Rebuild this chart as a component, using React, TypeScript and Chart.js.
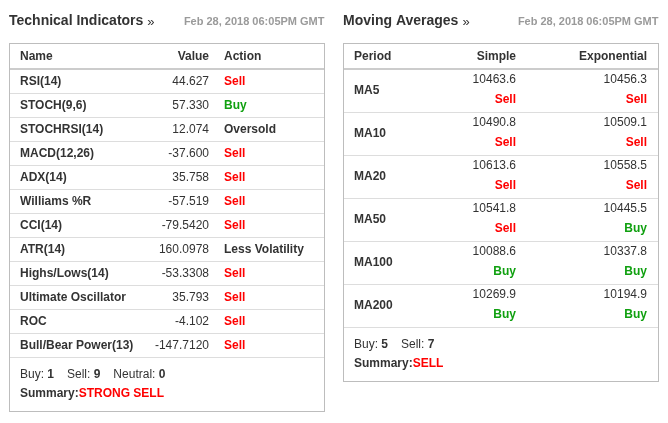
import React, { useEffect, useRef } from "react";
import { Chart, registerables } from "chart.js";

Chart.register(...registerables);

// ---------- data ----------
const TIMESTAMP = "Feb 28, 2018 06:05PM GMT";

const tiTitle = "Technical Indicators";
const tiHeaders = ["Name", "Value", "Action"];
const tiNames = [
  "RSI(14)",
  "STOCH(9,6)",
  "STOCHRSI(14)",
  "MACD(12,26)",
  "ADX(14)",
  "Williams %R",
  "CCI(14)",
  "ATR(14)",
  "Highs/Lows(14)",
  "Ultimate Oscillator",
  "ROC",
  "Bull/Bear Power(13)",
];
const tiValues = [44.627, 57.33, 12.074, -37.6, 35.758, -57.519, -79.542, 160.0978, -53.3308, 35.793, -4.102, -147.712];
const tiDecimals = [3, 3, 3, 3, 3, 3, 4, 4, 4, 3, 3, 4];
const tiActions = ["Sell", "Buy", "Oversold", "Sell", "Sell", "Sell", "Sell", "Less Volatility", "Sell", "Sell", "Sell", "Sell"];
const tiCountLabels = ["Buy:", "Sell:", "Neutral:"];
const tiCounts = [1, 9, 0];
const tiSummary = "STRONG SELL";

const maTitle = "Moving Averages";
const maHeaders = ["Period", "Simple", "Exponential"];
const maPeriods = ["MA5", "MA10", "MA20", "MA50", "MA100", "MA200"];
const maSimple = [10463.6, 10490.8, 10613.6, 10541.8, 10088.6, 10269.9];
const maSimpleActions = ["Sell", "Sell", "Sell", "Sell", "Buy", "Buy"];
const maExp = [10456.3, 10509.1, 10558.5, 10445.5, 10337.8, 10194.9];
const maExpActions = ["Sell", "Sell", "Sell", "Buy", "Buy", "Buy"];
const maCountLabels = ["Buy:", "Sell:"];
const maCounts = [5, 7];
const maSummary = "SELL";

// ---------- styles ----------
const FONT = "'Liberation Sans', Arial, Helvetica, sans-serif";
const TEXT = "#333333";
const GRAY = "#9a9a9a";
const RED = "#ff0000";
const GREEN = "#10a010";
const BORDER = "#bdbdbd";
const ROWLINE = "#dddddd";

function actionColor(a: string) {
  if (a === "Sell") return RED;
  if (a === "Buy") return GREEN;
  return TEXT;
}

type Run = { text: string; bold?: boolean; color?: string; gap?: number };

function drawRuns(ctx: CanvasRenderingContext2D, x: number, y: number, runs: Run[]) {
  let cx = x;
  ctx.textAlign = "left";
  ctx.textBaseline = "middle";
  for (const r of runs) {
    cx += r.gap || 0;
    ctx.font = `${r.bold ? "bold " : ""}12px ${FONT}`;
    ctx.fillStyle = r.color || TEXT;
    ctx.fillText(r.text, cx, y);
    cx += ctx.measureText(r.text).width;
  }
}

function text(ctx: CanvasRenderingContext2D, s: string, x: number, y: number, bold: boolean, color: string, align: CanvasTextAlign, size = 12) {
  ctx.font = `${bold ? "bold " : ""}${size}px ${FONT}`;
  ctx.fillStyle = color;
  ctx.textAlign = align;
  ctx.textBaseline = "middle";
  ctx.fillText(s, x, y);
}

function drawFrame(chart: any, title: string, headers: string[], headerX: number[], headerAlign: CanvasTextAlign[]) {
  const ctx: CanvasRenderingContext2D = chart.ctx;
  const area = chart.chartArea;
  const y = chart.scales.y;
  const n = chart.data.labels.length;
  const band = (area.bottom - area.top) / n;
  const left = area.left - 0.5;
  const right = area.right + 0.5;
  ctx.save();
  // title
  text(ctx, title, 9, 21, true, TEXT, "left", 14);
  ctx.font = `bold 14px ${FONT}`;
  const tw = ctx.measureText(title).width;
  text(ctx, "»", 9 + tw + 4, 22, false, TEXT, "left", 13);
  text(ctx, TIMESTAMP, right, 22, true, GRAY, "right", 11);
  // box
  const boxTop = 43.5;
  const boxBottom = Math.round(area.bottom + 54) + 0.5;
  ctx.strokeStyle = BORDER;
  ctx.lineWidth = 1;
  ctx.strokeRect(left, boxTop, right - left, boxBottom - boxTop);
  // header
  const hy = (boxTop + area.top) / 2 + 0.5;
  headers.forEach((h, i) => text(ctx, h, headerX[i], hy, true, TEXT, headerAlign[i]));
  ctx.fillStyle = "#cccccc";
  ctx.fillRect(left + 0.5, area.top - 1, right - left - 1, 2);
  // row lines from the category scale bands
  ctx.strokeStyle = ROWLINE;
  for (let i = 0; i < n; i++) {
    const yb = Math.round(y.getPixelForValue(i) + band / 2) + 0.5;
    ctx.beginPath();
    ctx.moveTo(left + 0.5, yb);
    ctx.lineTo(right - 0.5, yb);
    ctx.stroke();
  }
  ctx.restore();
  return { band };
}

function makeBase(labels: string[], values: number[], padBottom: number, plugin: any) {
  return {
    type: "bar" as const,
    data: {
      labels,
      datasets: [{ data: values, backgroundColor: "rgba(0,0,0,0)", borderWidth: 0 }],
    },
    options: {
      indexAxis: "y" as const,
      responsive: false,
      animation: false as const,
      events: [],
      layout: { padding: { top: 69, bottom: padBottom, left: 10, right: 10 } },
      scales: { x: { display: false }, y: { display: false } },
      plugins: { legend: { display: false }, tooltip: { enabled: false } },
    },
    plugins: [plugin],
  };
}

const tiPlugin = {
  id: "tiTable",
  afterDraw(chart: any) {
    const ctx: CanvasRenderingContext2D = chart.ctx;
    const area = chart.chartArea;
    const y = chart.scales.y;
    drawFrame(chart, tiTitle, tiHeaders, [20, 209, 224], ["left", "right", "left"]);
    ctx.save();
    tiNames.forEach((name, i) => {
      const cy = y.getPixelForValue(i) + 0.5;
      text(ctx, name, 20, cy, true, TEXT, "left");
      text(ctx, tiValues[i].toFixed(tiDecimals[i]), 209, cy, false, TEXT, "right");
      text(ctx, tiActions[i], 224, cy, true, actionColor(tiActions[i]), "left");
    });
    const runs: Run[] = [];
    tiCountLabels.forEach((l, i) => {
      runs.push({ text: l + " ", gap: i === 0 ? 0 : 13 });
      runs.push({ text: String(tiCounts[i]), bold: true });
    });
    drawRuns(ctx, 20, area.bottom + 18, runs);
    drawRuns(ctx, 20, area.bottom + 37, [
      { text: "Summary:", bold: true },
      { text: tiSummary, bold: true, color: RED },
    ]);
    ctx.restore();
  },
};

const maPlugin = {
  id: "maTable",
  afterDraw(chart: any) {
    const ctx: CanvasRenderingContext2D = chart.ctx;
    const area = chart.chartArea;
    const y = chart.scales.y;
    const { band } = drawFrame(chart, maTitle, maHeaders, [20, 182, 313], ["left", "right", "right"]);
    ctx.save();
    maPeriods.forEach((p, i) => {
      const cy = y.getPixelForValue(i);
      const top = cy - band / 2;
      text(ctx, p, 20, cy + 0.5, true, TEXT, "left");
      text(ctx, maSimple[i].toFixed(1), 182, top + 11, false, TEXT, "right");
      text(ctx, maSimpleActions[i], 182, top + 31, true, actionColor(maSimpleActions[i]), "right");
      text(ctx, maExp[i].toFixed(1), 313, top + 11, false, TEXT, "right");
      text(ctx, maExpActions[i], 313, top + 31, true, actionColor(maExpActions[i]), "right");
    });
    const runs: Run[] = [];
    maCountLabels.forEach((l, i) => {
      runs.push({ text: l + " ", gap: i === 0 ? 0 : 13 });
      runs.push({ text: String(maCounts[i]), bold: true });
    });
    drawRuns(ctx, 20, area.bottom + 18, runs);
    drawRuns(ctx, 20, area.bottom + 37, [
      { text: "Summary:", bold: true },
      { text: maSummary, bold: true, color: RED },
    ]);
    ctx.restore();
  },
};

export default function App() {
  const leftRef = useRef<HTMLCanvasElement | null>(null);
  const rightRef = useRef<HTMLCanvasElement | null>(null);

  useEffect(() => {
    if (!leftRef.current || !rightRef.current) return;
    const c1 = new Chart(leftRef.current, makeBase(tiNames, tiValues, 423 - 357, tiPlugin) as any);
    const c2 = new Chart(rightRef.current, makeBase(maPeriods, maSimple, 423 - 327, maPlugin) as any);
    return () => {
      c1.destroy();
      c2.destroy();
    };
  }, []);

  return (
    <div
      style={{
        position: "fixed",
        left: 0,
        top: 0,
        width: 668,
        height: 423,
        background: "#ffffff",
        display: "flex",
      }}
    >
      <canvas ref={leftRef} width={334} height={423} style={{ display: "block", width: 334, height: 423 }} />
      <canvas ref={rightRef} width={334} height={423} style={{ display: "block", width: 334, height: 423 }} />
    </div>
  );
}
